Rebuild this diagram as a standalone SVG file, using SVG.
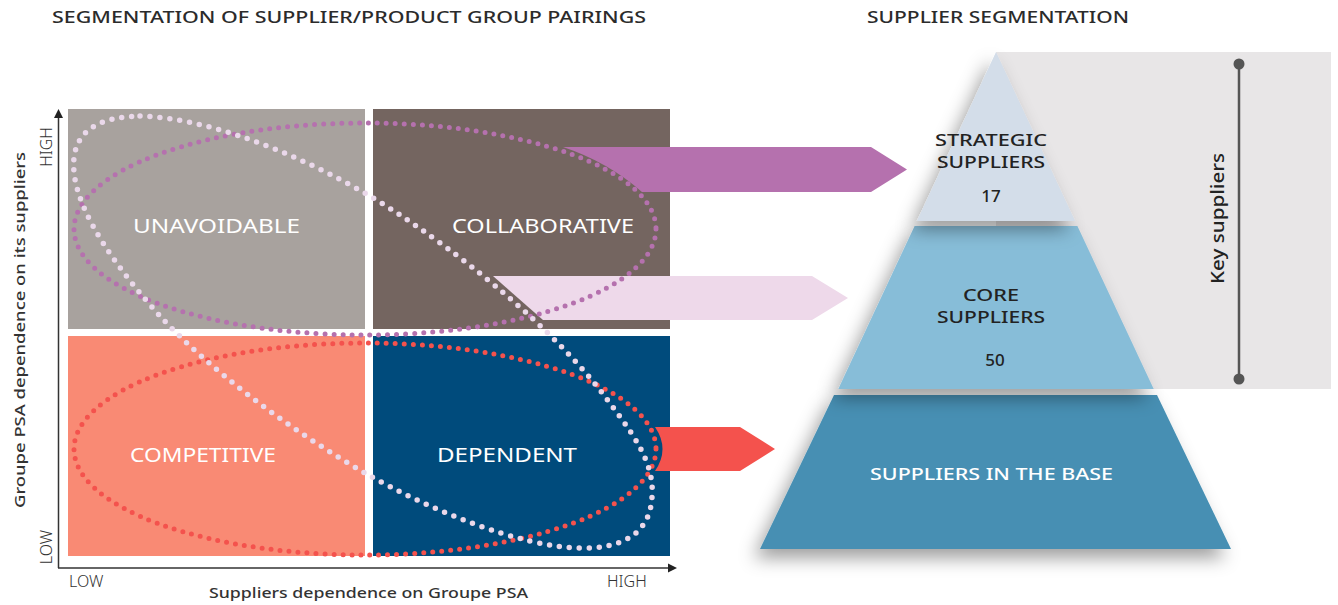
<svg xmlns="http://www.w3.org/2000/svg" width="1338" height="605" viewBox="0 0 1338 605">
<defs>
<style>
.t{font-family:"Noto Sans","Liberation Sans",sans-serif;fill:#2b2b2b}
.title{font-size:17px;font-weight:500}
.ax{font-size:16px;font-weight:300;fill:#333}
.axb{font-size:15px;font-weight:500;fill:#333}
.q{font-size:20px;font-weight:400;fill:#fff}
.p{font-size:17px;font-weight:500;fill:#222}
.dots{fill:none;stroke-width:5;stroke-dasharray:0 9;stroke-linecap:round}
</style>
<filter id="sh" x="-30%" y="-30%" width="160%" height="170%">
<feDropShadow dx="-6" dy="9" stdDeviation="9" flood-color="#000" flood-opacity="0.38"/>
</filter>
</defs>
<rect width="1338" height="605" fill="#fff"/>

<text class="t title" x="52" y="23" textLength="594" lengthAdjust="spacingAndGlyphs">SEGMENTATION OF SUPPLIER/PRODUCT GROUP PAIRINGS</text>
<text class="t title" x="867" y="23" textLength="262" lengthAdjust="spacingAndGlyphs">SUPPLIER SEGMENTATION</text>

<g id="quadrants">
<g id="unavoidable"><rect x="68" y="109" width="297" height="220" fill="#a8a29e"/><text class="t q" x="133" y="233" textLength="167" lengthAdjust="spacingAndGlyphs">UNAVOIDABLE</text></g>
<g id="collaborative"><rect x="373" y="109" width="297" height="220" fill="#746560"/><text class="t q" x="452" y="233" textLength="182" lengthAdjust="spacingAndGlyphs">COLLABORATIVE</text></g>
<g id="competitive"><rect x="68" y="336" width="297" height="220" fill="#f98a74"/><text class="t q" x="130" y="462" textLength="146" lengthAdjust="spacingAndGlyphs">COMPETITIVE</text></g>
<g id="dependent"><rect x="373" y="336" width="297" height="220" fill="#004b7c"/><text class="t q" x="437" y="462" textLength="140" lengthAdjust="spacingAndGlyphs">DEPENDENT</text></g>
</g>

<g id="axes">
<line x1="58.5" y1="568" x2="58.5" y2="116" stroke="#333" stroke-width="1.5"/>
<polygon points="58.5,109 54,118 63,118" fill="#222"/>
<line x1="58" y1="568" x2="670" y2="568" stroke="#333" stroke-width="1.5"/>
<polygon points="677,568 668,563.5 668,572.5" fill="#222"/>
<text class="t ax" transform="translate(52,147) rotate(-90)" text-anchor="middle">HIGH</text>
<text class="t ax" transform="translate(52,547) rotate(-90)" text-anchor="middle">LOW</text>
<text class="t ax" x="69" y="587">LOW</text>
<text class="t ax" x="607" y="587">HIGH</text>
<text class="t axb" x="209" y="598" textLength="319" lengthAdjust="spacingAndGlyphs">Suppliers dependence on Groupe PSA</text>
<text class="t axb" transform="translate(25,508) rotate(-90)" textLength="356" lengthAdjust="spacingAndGlyphs">Groupe PSA dependence on its suppliers</text>
</g>

<g id="connectors">
<path d="M563,147 L871,147 L907,169.5 L871,192 L642,192 Q608,162 563,147 Z" fill="#b571ae"/>
<path d="M493,276 L812,276 L848,298 L812,320 L543,320 Z" fill="#eed9ea"/>
<path d="M655,427 L740,427 L775,449 L740,471 L655,471 Q670,449 655,427 Z" fill="#f4524d"/>
</g>

<g id="loops">
<ellipse class="dots" cx="365" cy="229" rx="291" ry="106" stroke="#b571ae"/>
<ellipse class="dots" cx="365" cy="449" rx="291" ry="106" stroke="#f4524d"/>
<path class="dots" stroke="#ead8ea" style="stroke-width:5.5;stroke-dasharray:0 10" d="M140,116 C220,118 330,168 400,215 C450,248 540,315 600,390 C630,430 655,460 652,497 C650,535 620,549 580,548 C520,547 430,510 365,473 C290,430 210,370 160,316 C120,272 78,215 74,172 C70,130 100,117 140,116 Z"/>
</g>

<g id="keysuppliers">
<rect x="996" y="52" width="335" height="337" fill="#e8e6e7"/>
<line x1="1239" y1="64" x2="1239" y2="379" stroke="#555" stroke-width="2.5"/>
<circle cx="1239" cy="64" r="5.5" fill="#555"/>
<circle cx="1239" cy="379" r="5.5" fill="#555"/>
<text class="t" style="font-size:18px;font-weight:500;fill:#222" transform="translate(1224,284) rotate(-90)" textLength="131" lengthAdjust="spacingAndGlyphs">Key suppliers</text>
</g>

<g id="pyramid">
<g id="base"><polygon points="834,395 1157,395 1231,549 760,549" fill="#468fb3" filter="url(#sh)"/>
<text class="t p" x="870" y="480" style="fill:#fff" textLength="243" lengthAdjust="spacingAndGlyphs">SUPPLIERS IN THE BASE</text></g>
<g id="core"><polygon points="914.6,226 1077.4,226 1153.7,389 838.3,389" fill="#87bdd8" filter="url(#sh)"/>
<text class="t p" x="963" y="301" textLength="56" lengthAdjust="spacingAndGlyphs">CORE</text>
<text class="t p" x="937" y="323" textLength="108" lengthAdjust="spacingAndGlyphs">SUPPLIERS</text>
<text class="t p" x="995" y="366" text-anchor="middle">50</text></g>
<g id="strategic"><polygon points="996,52 1075.1,221 916.9,221" fill="#d3dde9" filter="url(#sh)"/>
<text class="t p" x="935" y="146" textLength="112" lengthAdjust="spacingAndGlyphs">STRATEGIC</text>
<text class="t p" x="937" y="168" textLength="108" lengthAdjust="spacingAndGlyphs">SUPPLIERS</text>
<text class="t p" x="991" y="202" text-anchor="middle">17</text></g>
</g>
</svg>
